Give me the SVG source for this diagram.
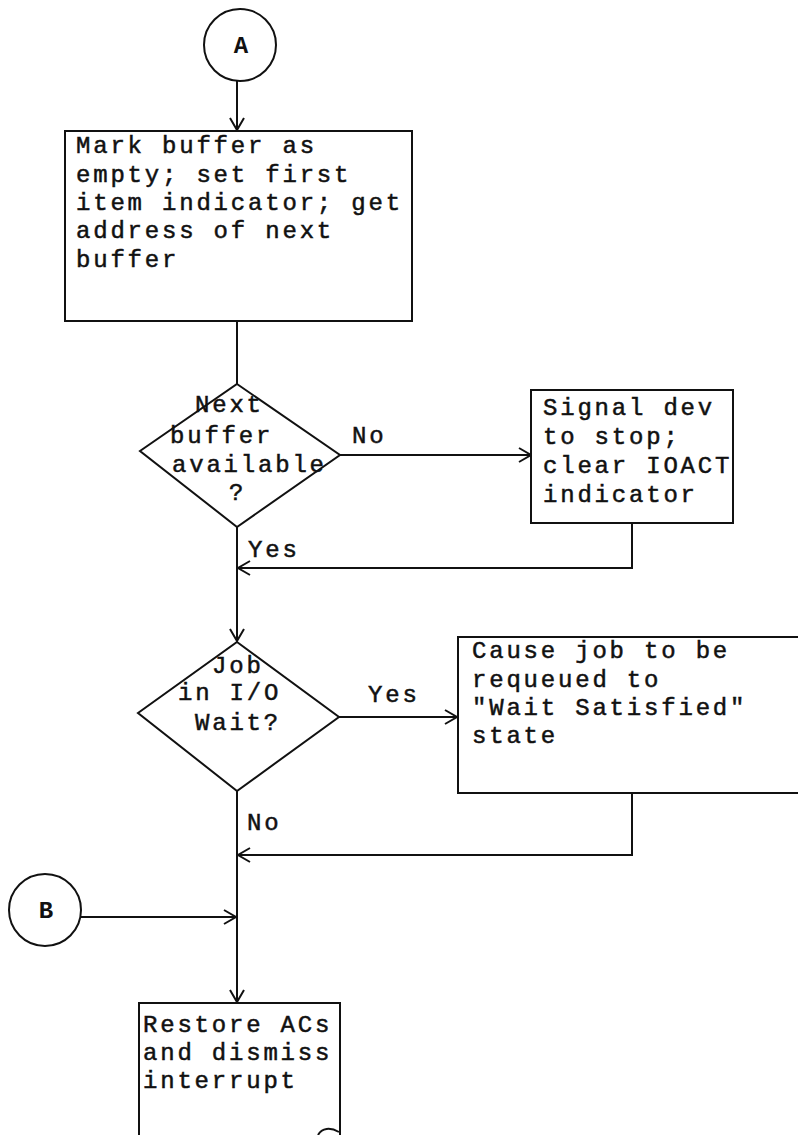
<svg xmlns="http://www.w3.org/2000/svg" width="798" height="1135" viewBox="0 0 798 1135">
<defs>
<marker id="arr" markerUnits="userSpaceOnUse" markerWidth="16" markerHeight="18" refX="13" refY="8" orient="auto">
<path d="M1,1 L13,8 L1,15" fill="none" stroke="#111" stroke-width="2"/>
</marker>
<style>
.s{fill:none;stroke:#111;stroke-width:2}
.b{fill:#fff;stroke:#111;stroke-width:2}
.t{font-family:"Liberation Mono","Courier New",monospace;font-size:24px;letter-spacing:2.8px;fill:#111;stroke:#111;stroke-width:0.5px}
.c{font-family:"Liberation Mono","Courier New",monospace;font-size:24px;font-weight:bold;fill:#111;text-anchor:middle}
</style>
</defs>
<rect width="798" height="1135" fill="#fff"/>
<g id="connectors">
<path class="s" d="M237,81 L237,130" marker-end="url(#arr)"/>
<path class="s" d="M237,321 L237,384"/>
<path class="s" d="M340,455 L531,455" marker-end="url(#arr)"/>
<path class="s" d="M632,523 L632,568 L238,568" marker-end="url(#arr)"/>
<path class="s" d="M237,527 L237,641" marker-end="url(#arr)"/>
<path class="s" d="M339,717 L457,717" marker-end="url(#arr)"/>
<path class="s" d="M632,793 L632,855 L238,855" marker-end="url(#arr)"/>
<path class="s" d="M237,791 L237,1002" marker-end="url(#arr)"/>
<path class="s" d="M81,917 L236,917" marker-end="url(#arr)"/>
</g>
<g id="nodeA">
<circle class="b" cx="240" cy="45" r="36"/>
<text class="c" x="241" y="53">A</text>
</g>
<g id="box1">
<rect class="b" x="65" y="131" width="347" height="190"/>
<text class="t" x="76" y="153">Mark buffer as</text>
<text class="t" x="76" y="182">empty; set first</text>
<text class="t" x="76" y="210">item indicator; get</text>
<text class="t" x="76" y="238">address of next</text>
<text class="t" x="76" y="267">buffer</text>
</g>
<g id="decision1">
<polygon class="b" points="237,384 340,455 237,527 140,451"/>
<text class="t" x="195" y="412">Next</text>
<text class="t" x="170" y="443">buffer</text>
<text class="t" x="172" y="472">available</text>
<text class="t" x="229" y="500">?</text>
</g>
<g id="labels">
<text class="t" x="352" y="443">No</text>
<text class="t" x="248" y="557">Yes</text>
<text class="t" x="368" y="702">Yes</text>
<text class="t" x="247" y="830">No</text>
</g>
<g id="box2">
<rect class="b" x="531" y="390" width="202" height="133"/>
<text class="t" x="543" y="415">Signal dev</text>
<text class="t" x="543" y="444">to stop;</text>
<text class="t" x="543" y="473">clear IOACT</text>
<text class="t" x="543" y="502">indicator</text>
</g>
<g id="decision2">
<polygon class="b" points="237,642 339,717 237,791 138,713"/>
<text class="t" x="212" y="673">Job</text>
<text class="t" x="178" y="700">in I/O</text>
<text class="t" x="195" y="730">Wait?</text>
</g>
<g id="box3">
<rect class="b" x="458" y="637" width="350" height="156"/>
<text class="t" x="472" y="658">Cause job to be</text>
<text class="t" x="472" y="687">requeued to</text>
<text class="t" x="472" y="715">"Wait Satisfied"</text>
<text class="t" x="472" y="743">state</text>
</g>
<g id="nodeB">
<circle class="b" cx="45" cy="910" r="36"/>
<text class="c" x="46" y="918">B</text>
</g>
<g id="box4">
<rect class="b" x="139" y="1003" width="201" height="150"/>
<text class="t" x="143" y="1032">Restore ACs</text>
<text class="t" x="143" y="1060">and dismiss</text>
<text class="t" x="143" y="1088">interrupt</text>
<path class="s" d="M318,1135 C322,1128 330,1127 339,1132"/>
</g>
</svg>
